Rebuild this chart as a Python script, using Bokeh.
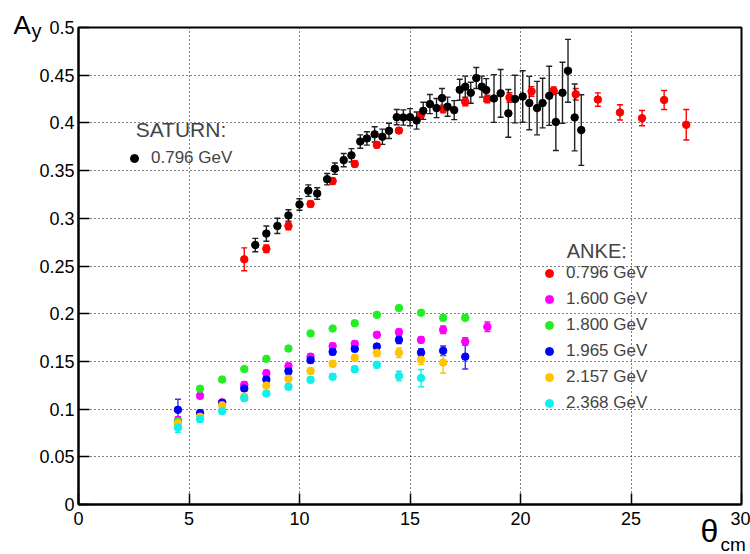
from bokeh.plotting import figure
from bokeh.models import (ColumnDataSource, Whisker, TeeHead, Legend, LegendItem,
                          Label, FixedTicker, NumeralTickFormatter, Range1d)
from bokeh.embed import file_html
from bokeh.resources import INLINE

# ---------------- data ----------------
x_ticks = [0, 5, 10, 15, 20, 25, 30]
y_ticks = [0, 0.05, 0.1, 0.15, 0.2, 0.25, 0.3, 0.35, 0.4, 0.45, 0.5]

# SATURN 0.796 GeV
sat_theta = [8.0, 8.5, 9.0, 9.5, 10.0, 10.4, 10.8, 11.25, 11.6, 12.0, 12.35, 12.75, 13.05,
             13.4, 13.75, 14.05, 14.4, 14.7, 15.0, 15.3, 15.6, 15.9, 16.2, 16.45, 16.7,
             17.0, 17.25, 17.5, 17.75, 18.0, 18.25, 18.45, 18.8, 19.1, 19.45, 19.75,
             20.1, 20.4, 20.75, 21.0, 21.3, 21.6, 21.9, 22.15, 22.45, 22.75]
sat_ay = [0.272, 0.284, 0.292, 0.303, 0.3145, 0.329, 0.326, 0.341, 0.352, 0.361, 0.366,
          0.3805, 0.3837, 0.388, 0.3855, 0.3917, 0.406, 0.4057, 0.406, 0.4025, 0.4127,
          0.4197, 0.4155, 0.426, 0.417, 0.4134, 0.4347, 0.438, 0.4316, 0.447, 0.438,
          0.4344, 0.4256, 0.431, 0.410, 0.425, 0.4277, 0.4208, 0.4155, 0.4208, 0.4284,
          0.401, 0.4316, 0.4546, 0.4057, 0.3925]
sat_err = [0.007, 0.008, 0.008, 0.006, 0.006, 0.006, 0.006, 0.006, 0.006, 0.007, 0.007,
           0.007, 0.007, 0.008, 0.008, 0.008, 0.008, 0.008, 0.009, 0.009, 0.009, 0.010,
           0.010, 0.010, 0.010, 0.010, 0.011, 0.011, 0.011, 0.011, 0.011, 0.012, 0.025,
           0.025, 0.025, 0.025, 0.027, 0.028, 0.028, 0.026, 0.031, 0.030, 0.032, 0.033,
           0.035, 0.037]

# ANKE
anke_0796_theta = [7.5, 8.5, 9.5, 10.5, 11.5, 12.5, 13.5, 14.5, 15.5, 16.5, 17.5, 18.5,
                   19.5, 20.5, 21.5, 22.5, 23.5, 24.5, 25.5, 26.5, 27.5]
anke_0796_ay = [0.257, 0.268, 0.292, 0.315, 0.339, 0.357, 0.377, 0.392, 0.4085, 0.4145,
                0.422, 0.425, 0.4266, 0.433, 0.4337, 0.430, 0.4245, 0.411, 0.405, 0.424,
                0.398]
anke_0796_err = [0.012, 0.004, 0.004, 0.003, 0.003, 0.003, 0.003, 0.003, 0.003, 0.004,
                 0.004, 0.004, 0.005, 0.005, 0.004, 0.006, 0.007, 0.008, 0.008, 0.010,
                 0.016]

anke_1600_theta = [4.5, 5.5, 6.5, 7.5, 8.5, 9.5, 10.5, 11.5, 12.5, 13.5, 14.5, 15.5, 16.5,
                   17.5, 18.5]
anke_1600_ay = [0.088, 0.114, 0.107, 0.1255, 0.1377, 0.145, 0.155, 0.166, 0.1684, 0.1779,
                0.1807, 0.1726, 0.1831, 0.1709, 0.1863]
anke_1600_err = [0.004, 0.003, 0.003, 0.003, 0.003, 0.003, 0.003, 0.003, 0.003, 0.003,
                 0.003, 0.003, 0.004, 0.004, 0.005]

anke_1800_theta = [4.5, 5.5, 6.5, 7.5, 8.5, 9.5, 10.5, 11.5, 12.5, 13.5, 14.5, 15.5, 16.5,
                   17.5]
anke_1800_ay = [0.087, 0.1213, 0.131, 0.142, 0.1527, 0.1635, 0.1793, 0.1845, 0.190,
                0.1988, 0.2059, 0.201, 0.1957, 0.1957]
anke_1800_err = [0.004, 0.002, 0.002, 0.002, 0.002, 0.002, 0.002, 0.002, 0.002, 0.002,
                 0.002, 0.002, 0.003, 0.003]

anke_1965_theta = [4.5, 5.5, 6.5, 7.5, 8.5, 9.5, 10.5, 11.5, 12.5, 13.5, 14.5, 15.5, 16.5,
                   17.5]
anke_1965_ay = [0.0993, 0.0958, 0.1066, 0.1216, 0.131, 0.1398, 0.1514, 0.160, 0.1632,
                0.1656, 0.1726, 0.1593, 0.1611, 0.155]
anke_1965_err = [0.011, 0.003, 0.003, 0.003, 0.003, 0.003, 0.003, 0.003, 0.003, 0.003,
                 0.004, 0.004, 0.005, 0.013]

anke_2157_theta = [4.5, 5.5, 6.5, 7.5, 8.5, 9.5, 10.5, 11.5, 12.5, 13.5, 14.5, 15.5, 16.5]
anke_2157_ay = [0.085, 0.092, 0.104, 0.113, 0.1247, 0.1318, 0.140, 0.1475, 0.1538, 0.159,
                0.159, 0.1517, 0.1488]
anke_2157_err = [0.006, 0.003, 0.003, 0.003, 0.003, 0.003, 0.003, 0.003, 0.003, 0.004,
                 0.005, 0.005, 0.011]

anke_2368_theta = [4.5, 5.5, 6.5, 7.5, 8.5, 9.5, 10.5, 11.5, 12.5, 13.5, 14.5, 15.5]
anke_2368_ay = [0.0807, 0.0895, 0.0979, 0.1115, 0.1164, 0.1234, 0.1307, 0.134, 0.1419,
                0.1464, 0.1346, 0.1325]
anke_2368_err = [0.005, 0.003, 0.003, 0.003, 0.003, 0.003, 0.003, 0.003, 0.003, 0.003,
                 0.005, 0.009]

anke_labels = ["0.796 GeV", "1.600 GeV", "1.800 GeV", "1.965 GeV", "2.157 GeV", "2.368 GeV"]
sat_label = "0.796 GeV"

FONT = "Liberation Sans"

p = figure(width=750, height=554, output_backend="svg", toolbar_location=None,
           x_range=Range1d(0, 30), y_range=Range1d(0, 0.5),
           min_border_left=78, min_border_right=9, min_border_top=27, min_border_bottom=50)
p.background_fill_color = "white"
p.border_fill_color = "white"
p.outline_line_color = "black"
p.outline_line_width = 2

for ax in (p.xaxis[0], p.yaxis[0]):
    ax.axis_line_width = 2
    ax.axis_line_color = "black"
    ax.major_tick_in = 11
    ax.major_tick_out = 0
    ax.major_tick_line_width = 1.5
    ax.minor_tick_line_color = None
    ax.major_label_text_font = FONT
    ax.major_label_text_font_size = "18px"
    ax.major_label_text_color = "black"
p.xaxis.ticker = FixedTicker(ticks=x_ticks)
p.yaxis.ticker = FixedTicker(ticks=y_ticks)
p.yaxis.formatter = NumeralTickFormatter(format="0.[00]")
p.xaxis.major_label_standoff = 7
p.yaxis.major_label_standoff = 4

for g in (p.xgrid[0], p.ygrid[0]):
    g.grid_line_color = "black"
    g.grid_line_dash = "1 3"
    g.grid_line_width = 1.1
p.xgrid.ticker = FixedTicker(ticks=x_ticks)
p.ygrid.ticker = FixedTicker(ticks=y_ticks)


def series(theta, ay, err, color, err_color=None):
    ec = err_color or color
    src = ColumnDataSource(dict(x=theta, y=ay,
                                lo=[a - e for a, e in zip(ay, err)],
                                hi=[a + e for a, e in zip(ay, err)]))
    w = Whisker(source=src, base="x", lower="lo", upper="hi", dimension="height",
                line_color=ec, line_width=1.4,
                lower_head=TeeHead(size=6, line_color=ec, line_width=1.4),
                upper_head=TeeHead(size=6, line_color=ec, line_width=1.4))
    p.add_layout(w)
    r = p.scatter("x", "y", source=src, size=7.5, marker="circle",
                  fill_color=color, line_color=color)
    return r


r_red = series(anke_0796_theta, anke_0796_ay, anke_0796_err, "#ff0000")
r_mag = series(anke_1600_theta, anke_1600_ay, anke_1600_err, "#ff00ff")
r_grn = series(anke_1800_theta, anke_1800_ay, anke_1800_err, "#22ee22")
r_blu = series(anke_1965_theta, anke_1965_ay, anke_1965_err, "#0000ff", "#3333ee")
r_orn = series(anke_2157_theta, anke_2157_ay, anke_2157_err, "#ffc400")
r_cyn = series(anke_2368_theta, anke_2368_ay, anke_2368_err, "#11eeee")
r_blk = series(sat_theta, sat_ay, sat_err, "black", "#222222")

nb = "\u00a0"
leg_sat = Legend(items=[LegendItem(label=sat_label, renderers=[r_blk])],
                 title=nb * 2 + "SATURN:", location=(46, 336))
leg_anke = Legend(items=[LegendItem(label=l, renderers=[r]) for l, r in
                         zip(anke_labels, [r_red, r_mag, r_grn, r_blu, r_orn, r_cyn])],
                  title=nb * 5 + "ANKE:", location=(461, 91))
for lg, st, tfs in ((leg_sat, 6, "21px"), (leg_anke, 0, "20px")):
    lg.border_line_color = None
    lg.background_fill_alpha = 0
    lg.padding = 0
    lg.margin = 0
    lg.spacing = 6
    lg.glyph_width = 20
    lg.glyph_height = 20
    lg.label_height = 20
    lg.label_standoff = 7
    lg.label_text_font = FONT
    lg.label_text_font_size = "17px"
    lg.title_text_font = FONT
    lg.title_text_font_size = tfs
    lg.title_text_font_style = "normal"
    lg.title_standoff = st
    p.add_layout(lg)

# axis titles (placed in side panels so they are not clipped to the frame)
p.add_layout(Label(x=-2.94, y=0.5028, text="A", text_font=FONT, text_font_size="26px",
                   text_baseline="middle", text_color="black"), "left")
p.add_layout(Label(x=-2.13, y=0.4965, text="y", text_font=FONT, text_font_size="20px",
                   text_baseline="middle", text_color="black"), "above")
p.add_layout(Label(x=28.14, y=-0.0276, text="θ", text_font=FONT, text_font_size="32px",
                   text_baseline="middle", text_color="black"), "left")
p.add_layout(Label(x=29.05, y=-0.0415, text="cm", text_font=FONT, text_font_size="19px",
                   text_baseline="middle", text_color="black"), "below")

open("out.html", "w").write(file_html(p, INLINE))
